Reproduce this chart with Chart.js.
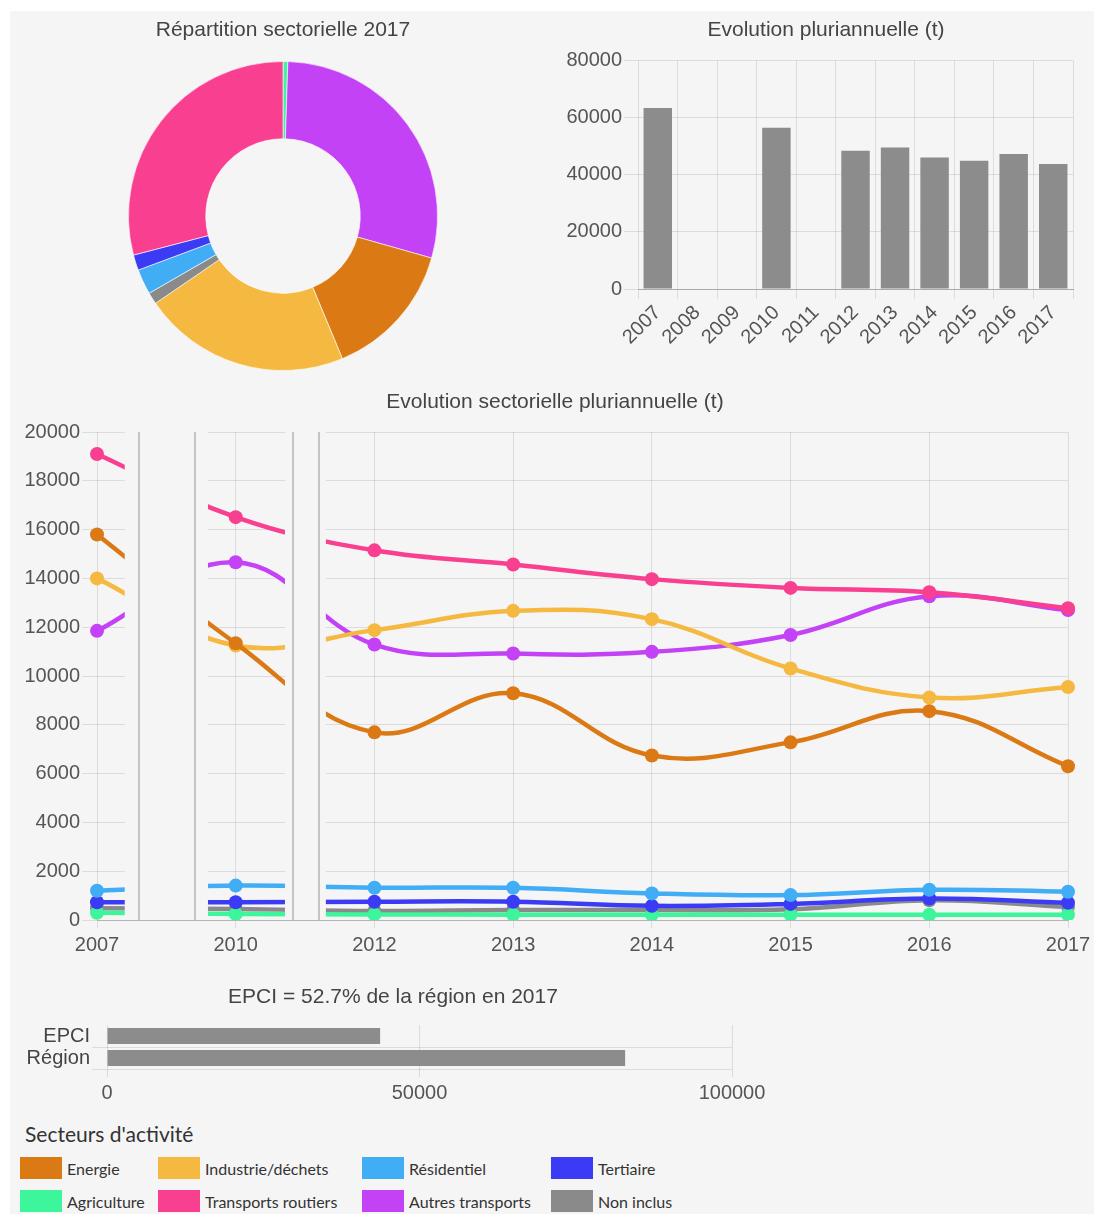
<!DOCTYPE html>
<html lang="fr">
<head>
<meta charset="utf-8">
<title>Secteurs d'activité</title>
<script src="https://cdn.jsdelivr.net/npm/chart.js@4.4.1/dist/chart.umd.min.js"></script>
<style>
  html, body { margin: 0; padding: 0; background: #fff; }
  body { width: 1094px; height: 1214px; position: relative; overflow: hidden; }
  .panel { position: absolute; left: 10px; top: 11px; width: 1084px; height: 1203px; background: #f5f5f5; }
  canvas { position: absolute; }
  #pie { left: 10px; top: 11px; }
  #total { left: 556px; top: 11px; }
  #sectors { left: 10px; top: 380px; }
  #compare { left: 10px; top: 980px; }
  .title {
    position: absolute; width: 600px; height: 25px; line-height: 25px; text-align: center;
    font: 21px "Liberation Sans", Arial, sans-serif; color: #444; white-space: nowrap;
  }
  #t-pie { left: -17px; top: 17px; }
  #t-total { left: 526px; top: 17px; }
  #t-sectors { left: 255px; top: 389px; }
  #t-compare { left: 93px; top: 984px; }
  .legend-title { position: absolute; left: 25px; top: 1121px; font: 21px Lato, sans-serif; color: #333; }
  .legend { position: absolute; left: 20px; top: 1157px; font: 16px Lato, sans-serif; color: #333; }
  .item { position: absolute; display: flex; align-items: center; white-space: nowrap; }
  .item span.sw { display: inline-block; width: 42px; height: 22px; margin-right: 5px; }
</style>
</head>
<body>
<div class="panel"></div>
<canvas id="pie" width="546" height="360"></canvas>
<canvas id="total" width="538" height="345"></canvas>
<canvas id="sectors" width="1084" height="580"></canvas>
<canvas id="compare" width="766" height="125"></canvas>
<div class="title" id="t-pie"></div>
<div class="title" id="t-total">Evolution pluriannuelle (t)</div>
<div class="title" id="t-sectors">Evolution sectorielle pluriannuelle (t)</div>
<div class="title" id="t-compare"></div>
<div class="legend-title">Secteurs d'activité</div>
<div class="legend" id="legend"></div>

<script>
"use strict";

// yearly totals (t)
const years = ["2007", "2008", "2009", "2010", "2011", "2012", "2013", "2014", "2015", "2016", "2017"];
const totals = [63350, null, null, 56450, null, 48400, 49550, 46050, 44900, 47250, 43750];

// years with sector detail
const sectorYears = ["2007", "2010", "2012", "2013", "2014", "2015", "2016", "2017"];
const energie = [15800, 11340, 7690, 9290, 6740, 7280, 8560, 6300];
const industrie = [14000, 11250, 11880, 12670, 12330, 10310, 9120, 9550];
const residentiel = [1200, 1410, 1320, 1320, 1090, 1020, 1240, 1160];
const tertiaire = [730, 730, 750, 750, 580, 660, 880, 710];
const agriculture = [300, 250, 230, 220, 220, 220, 220, 220];
const transportsRoutiers = [19100, 16510, 15150, 14570, 13970, 13610, 13430, 12780];
const autresTransports = [11850, 14660, 11290, 10920, 10990, 11680, 13270, 12700];
const nonInclus = [480, 450, 370, 410, 410, 440, 810, 540];

const sectors = ["Energie", "Industrie/déchets", "Résidentiel", "Tertiaire",
  "Agriculture", "Transports routiers", "Autres transports", "Non inclus"];
const sectorSeries = [energie, industrie, residentiel, tertiaire,
  agriculture, transportsRoutiers, autresTransports, nonInclus];
const sectorColors = ["#db7a15", "#f5b942", "#41adf5", "#3b3bf5",
  "#3df59b", "#f93f8f", "#c342f5", "#8a8a8a"];

// EPCI vs région, 2017
const compareLabels = ["EPCI", "Région"];
const compareValues = [43700, 82900];

const BG = "#f5f5f5";
const GRID = "rgba(0,0,0,0.1)";

Chart.defaults.font.family = '"Liberation Sans", Arial, sans-serif';
Chart.defaults.font.size = 20;
Chart.defaults.color = "#555";
Chart.defaults.animation = false;
Chart.defaults.responsive = false;
Chart.defaults.plugins.legend.display = false;
Chart.defaults.plugins.tooltip.enabled = false;

// plain numbers, no thousands separator
const plain = (v) => String(v);

// scales keep the size we give them, no extra room for edge labels
const fixWidth = function (w) {
  return function (s) { s.width = w; s.paddingTop = 0; s.paddingBottom = 0; };
};
const fixHeight = function (h) {
  return function (s) { s.height = h; s.paddingLeft = 0; s.paddingRight = 0; };
};

const last = sectorYears.length - 1;
document.getElementById("t-pie").textContent = "Répartition sectorielle " + sectorYears[last];

// doughnut: 2017 share, sectors in alphabetical order
const pieOrder = sectors.map((_, i) => i)
  .sort((a, b) => sectors[a].localeCompare(sectors[b], "fr"));

new Chart(document.getElementById("pie"), {
  type: "doughnut",
  data: {
    labels: pieOrder.map((i) => sectors[i]),
    datasets: [{
      data: pieOrder.map((i) => sectorSeries[i][last]),
      backgroundColor: pieOrder.map((i) => sectorColors[i]),
      borderColor: "rgba(255,255,255,0.6)",
      borderWidth: 1,
    }],
  },
  options: {
    cutout: "50%",
    layout: { padding: { top: 50, bottom: 0, left: 0, right: 0 } },
  },
});

// yearly total bars
new Chart(document.getElementById("total"), {
  type: "bar",
  data: {
    labels: years,
    datasets: [{ data: totals, backgroundColor: "#8c8c8c" }],
  },
  options: {
    layout: { padding: { left: 0, right: 21, top: 49.5, bottom: 0 } },
    scales: {
      x: {
        grid: { color: GRID, offset: true, tickLength: 10 },
        border: { color: "#aaa" },
        ticks: { maxRotation: 45, minRotation: 45, padding: 2, autoSkip: false },
        afterFit: fixHeight(67),
      },
      y: {
        min: 0,
        max: 80000,
        ticks: { stepSize: 20000, padding: 2, callback: plain },
        grid: { color: GRID, tickLength: 14 },
        border: { display: false },
        afterFit: fixWidth(82),
      },
    },
  },
});

// masks the stretches of the curve over years without data
const axisBreaks = {
  id: "axisBreaks",
  afterDatasetsDraw(chart, args, opts) {
    const { ctx, chartArea, scales } = chart;
    const x = scales.x;
    ctx.save();
    opts.gaps.forEach(function (g) {
      const a = x.getPixelForValue(g.index);
      const w = x.getPixelForValue(g.index + 1) - a;
      ctx.fillStyle = opts.background;
      ctx.fillRect(a + w * g.mask[0], chartArea.top - 2,
        w * (g.mask[1] - g.mask[0]), chartArea.bottom - chartArea.top + 1);
      ctx.strokeStyle = opts.color;
      ctx.lineWidth = 1.5;
      g.lines.forEach(function (f) {
        const px = Math.round(a + w * f);
        ctx.beginPath();
        ctx.moveTo(px, chartArea.top);
        ctx.lineTo(px, chartArea.bottom);
        ctx.stroke();
      });
    });
    ctx.restore();
  },
};

new Chart(document.getElementById("sectors"), {
  type: "line",
  data: {
    labels: sectorYears,
    datasets: sectors.map(function (name, i) {
      return {
        label: name,
        data: sectorSeries[i],
        borderColor: sectorColors[i],
        backgroundColor: sectorColors[i],
        borderWidth: 4.5,
        pointRadius: 7,
        pointBorderWidth: 0,
        tension: 0.4,
        fill: false,
      };
    }),
  },
  plugins: [axisBreaks],
  options: {
    layout: { padding: { left: 0, right: 26, top: 52, bottom: 0 } },
    plugins: {
      axisBreaks: {
        background: BG,
        color: "#b4b4b4",
        gaps: [
          { index: 0, mask: [0.2, 0.8], lines: [0.3, 0.71] },
          { index: 1, mask: [0.355, 0.65], lines: [0.41, 0.6] },
        ],
      },
    },
    scales: {
      x: {
        grid: { color: GRID, tickLength: 8 },
        border: { color: "#b4b4b4" },
        ticks: { padding: 5, maxRotation: 0, autoSkip: false },
        afterFit: fixHeight(40),
      },
      y: {
        min: 0,
        max: 20000,
        ticks: { stepSize: 2000, padding: 2, callback: plain },
        grid: { color: GRID, tickLength: 15 },
        border: { display: false },
        afterFit: fixWidth(87),
      },
    },
  },
});

// EPCI share of the région
const share = (compareValues[0] / compareValues[1] * 100).toFixed(1);
document.getElementById("t-compare").textContent =
  compareLabels[0] + " = " + share + "% de la région en " + sectorYears[last];

new Chart(document.getElementById("compare"), {
  type: "bar",
  data: {
    labels: compareLabels,
    datasets: [{ data: compareValues, backgroundColor: "#8c8c8c" }],
  },
  options: {
    indexAxis: "y",
    layout: { padding: { left: 0, right: 44, top: 45, bottom: 0 } },
    scales: {
      x: {
        min: 0,
        max: 100000,
        ticks: { stepSize: 50000, padding: 4, maxRotation: 0, callback: plain },
        grid: { color: GRID, tickLength: 8 },
        border: { display: false },
        afterFit: fixHeight(36),
      },
      y: {
        ticks: { padding: 2, color: "#444", autoSkip: false },
        grid: {
          color: (c) => (c.index === 0 ? "transparent" : GRID),
          tickLength: 15,
          offset: true,
        },
        border: { display: false },
        afterFit: fixWidth(97),
      },
    },
  },
});

// legend, two rows of four
const legendCols = [0, 138, 342, 531];
const legend = document.getElementById("legend");
sectors.forEach(function (name, i) {
  const item = document.createElement("div");
  item.className = "item";
  item.style.left = legendCols[i % 4] + "px";
  item.style.top = (Math.floor(i / 4) * 33) + "px";
  const sw = document.createElement("span");
  sw.className = "sw";
  sw.style.background = sectorColors[i];
  item.appendChild(sw);
  item.appendChild(document.createTextNode(name));
  legend.appendChild(item);
});
</script>
</body>
</html>
